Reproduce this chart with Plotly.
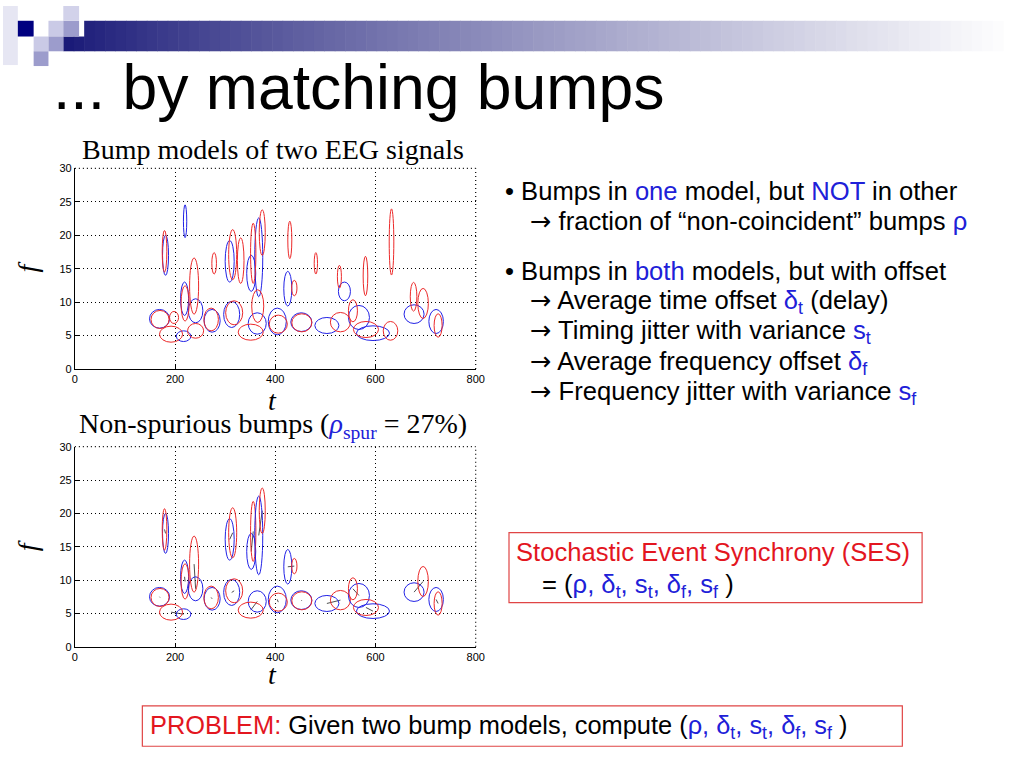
import plotly.graph_objects as go

# bumps of signal 1 (blue) : centre t, centre f, half width in t, half height in f
blue_t = [169, 181, 217, 219, 220, 241, 274, 309, 313, 352, 364, 367, 404, 425, 452, 503, 538, 567, 595, 677, 721]
blue_f = [7.5, 17.0, 4.9, 10.5, 22.1, 8.7, 7.2, 16.1, 8.15, 14.3, 6.8, 16.7, 7.1, 12.0, 7.0, 6.5, 11.6, 7.7, 5.35, 8.2, 7.1]
blue_wt = [20, 6, 14.5, 8, 3.3, 14.5, 16, 9, 16, 9, 18, 8, 18, 8, 21, 24, 12, 21, 33, 20, 14.5]
blue_wf = [1.4, 3.0, 0.8, 2.5, 2.45, 1.8, 1.7, 3.1, 1.95, 2.7, 1.6, 5.9, 2.0, 2.6, 1.4, 1.2, 1.4, 1.8, 1.1, 1.4, 1.8]

# bumps of signal 2 (red)
red_t = [170, 179, 192, 198, 220, 238, 241, 272, 278, 315, 318, 331, 351, 356, 365, 374, 406, 429, 438, 453,
         481, 528, 530, 555, 580, 581, 630, 632, 676, 695, 725]
red_f = [7.4, 17.6, 5.2, 7.7, 9.8, 12.4, 5.7, 7.4, 15.8, 17.1, 8.4, 16.2, 5.5, 17.3, 9.4, 20.4, 6.7, 19.3, 12.1, 6.9,
         15.8, 13.8, 7.0, 8.7, 13.9, 5.9, 5.7, 19.0, 10.8, 9.8, 6.5]
red_wt = [18, 4.6, 23, 9, 8, 9, 16, 14.5, 4.6, 8, 17, 6.6, 25, 5.3, 12, 6, 18, 4, 5.3, 20,
          3.3, 4, 20, 9, 4.6, 25, 14.5, 4.6, 6.6, 10.5, 8]
red_wf = [1.35, 3.1, 1.2, 0.9, 2.65, 4.2, 1.1, 1.7, 1.6, 3.75, 1.8, 3.4, 1.2, 4.5, 2.45, 3.4, 1.35, 2.8, 1.15, 1.35,
          1.6, 1.7, 1.45, 1.65, 2.95, 1.2, 1.4, 4.95, 2.15, 2.25, 1.75]

# matched (non-spurious) pairs: blue index, red index
match_blue = [0, 1, 2, 3, 5, 6, 7, 8, 9, 10, 11, 12, 13, 14, 15, 17, 18, 19, 20]
match_red = [0, 1, 2, 4, 5, 7, 9, 10, 13, 12, 15, 16, 18, 19, 22, 23, 25, 29, 30]

x_ticks = [0, 200, 400, 600, 800]
y_ticks = [0, 5, 10, 15, 20, 25, 30]

BLUE = "#2222e6"
RED = "#ec2a2a"
TXT_BLUE = "#2020d8"
TXT_RED = "#e3161f"
SANS = "Liberation Sans"
SERIF = "Liberation Serif"
ARROW = "<span style='font-family:DejaVu Sans'>→</span>"
BODY = 25.6
DOT = "1px,3px"


def px(x):
    return x / 1024


def py(y):
    return 1 - y / 768


def ellipse(xr, yr, t, f, wt, wf, color):
    return dict(type="circle", xref=xr, yref=yr, x0=t - wt, x1=t + wt, y0=f - wf, y1=f + wf,
                line=dict(color=color, width=1), layer="above")


fig = go.Figure()
shapes = []

# top panel: all bumps
for i in range(len(blue_t)):
    shapes.append(ellipse("x", "y", blue_t[i], blue_f[i], blue_wt[i], blue_wf[i], BLUE))
for i in range(len(red_t)):
    shapes.append(ellipse("x", "y", red_t[i], red_f[i], red_wt[i], red_wf[i], RED))

# bottom panel: only matched bumps + links between centres
lx, ly = [], []
for b, r in zip(match_blue, match_red):
    shapes.append(ellipse("x2", "y2", blue_t[b], blue_f[b], blue_wt[b], blue_wf[b], BLUE))
    shapes.append(ellipse("x2", "y2", red_t[r], red_f[r], red_wt[r], red_wf[r], RED))
    lx += [blue_t[b], red_t[r], None]
    ly += [blue_f[b], red_f[r], None]

fig.add_trace(go.Scatter(x=[None], y=[None], xaxis="x", yaxis="y", showlegend=False))
fig.add_trace(go.Scatter(x=lx, y=ly, mode="lines", xaxis="x2", yaxis="y2",
                         line=dict(color="#222222", width=0.8), showlegend=False, hoverinfo="skip"))

# dotted top / right edges of both panels (grid at the axis ends)
for xr, yr in (("x domain", "y domain"), ("x2 domain", "y2 domain")):
    shapes.append(dict(type="line", xref=xr, yref=yr, x0=0, x1=1, y0=1, y1=1,
                       line=dict(color="black", width=1.2, dash=DOT)))
    shapes.append(dict(type="line", xref=xr, yref=yr, x0=1, x1=1, y0=0, y1=1,
                       line=dict(color="black", width=1.2, dash=DOT)))

# slide decoration: gradient bar and squares
x_start, x_end, n = 61, 1012, 90
for k in range(n):
    a = k / n
    fr = a ** 0.85
    c = [int(26 + (255 - 26) * fr), int(26 + (255 - 26) * fr), int(120 + (255 - 120) * fr)]
    xa = x_start + (x_end - x_start) * k / n
    xb = x_start + (x_end - x_start) * (k + 1) / n + 0.6
    y_top = 31 if xa < 77 else 15
    shapes.append(dict(type="rect", xref="paper", yref="paper", x0=px(xa), x1=px(xb),
                       y0=py(46), y1=py(y_top), fillcolor=f"rgb({c[0]},{c[1]},{c[2]})",
                       line=dict(width=0), layer="below"))
squares = [
    (0, 0, 15, 60, "#e6e6f3"),
    (15, 15, 31, 31, "#000080"),
    (46, 15, 61, 31, "#cacae6"),
    (61, 15, 77, 31, "#9c9ccc"),
    (61, 0, 77, 15, "#d2d2ea"),
    (31, 31, 46, 46, "#cacae6"),
    (46, 31, 61, 46, "#9c9ccc"),
    (31, 46, 46, 61, "#9c9ccc"),
]
for x0, y0, x1, y1, col in squares:
    shapes.append(dict(type="rect", xref="paper", yref="paper", x0=px(x0), x1=px(x1),
                       y0=py(y1), y1=py(y0), fillcolor=col, line=dict(width=0), layer="below"))

# text boxes
shapes.append(dict(type="rect", xref="paper", yref="paper", x0=px(512), x1=px(930), y0=py(606), y1=py(535),
                   line=dict(color="#e04545", width=1.2)))
shapes.append(dict(type="rect", xref="paper", yref="paper", x0=px(141), x1=px(910), y0=py(752), y1=py(711),
                   line=dict(color="#e04545", width=1.2)))


def b(s):
    return f"<span style='color:{TXT_BLUE}'>{s}</span>"


def r(s):
    return f"<span style='color:{TXT_RED}'>{s}</span>"


ann = []


def text(x, y, s, size=BODY, font=SANS, xanchor="left", angle=0, color="black"):
    ann.append(dict(x=px(x), y=py(y), xref="paper", yref="paper", text=s, showarrow=False,
                    xanchor=xanchor, yanchor="middle", textangle=angle, borderpad=0,
                    font=dict(family=font, size=size, color=color)))


text(50, 82, "... by matching bumps", size=62.5)

text(273, 146, "Bump models of two EEG signals", size=28, font=SERIF, xanchor="center")
text(273, 426, "Non-spurious bumps (" + b("<i>ρ</i><sub>spur</sub>") + " = 27%)", size=28, font=SERIF,
     xanchor="center")
for yy in (265, 548):
    text(25, yy, "<i>f</i>", size=28, font=SERIF, xanchor="center", angle=-90)
for yy in (401, 679):
    text(273, yy, "<i>t</i>", size=28, font=SERIF, xanchor="center")

text(507, 188, "• Bumps in " + b("one") + " model, but " + b("NOT") + " in other")
text(532, 218, ARROW + " fraction of “non-coincident” bumps " + b("ρ"))
text(507, 269, "• Bumps in " + b("both") + " models, but with offset")
text(532, 300, ARROW + " Average time offset " + b("δ<sub>t</sub>") + " (delay)")
text(532, 331, ARROW + " Timing jitter with variance " + b("s<sub>t</sub>"))
text(532, 362, ARROW + " Average frequency offset " + b("δ<sub>f</sub>"))
text(532, 393, ARROW + " Frequency jitter with variance " + b("s<sub>f</sub>"))

sym = b("ρ, δ<sub>t</sub>, s<sub>t</sub>, δ<sub>f</sub>, s<sub>f</sub>")
text(518, 555, "Stochastic Event Synchrony (SES)", color=TXT_RED)
text(544, 589, "= (" + sym + " )")
text(148, 732, r("PROBLEM:") + " Given two bump models, compute (" + sym + " )", size=25.4)

axis_common = dict(showline=True, mirror=False, linecolor="black", linewidth=1,
                   showgrid=True, gridcolor="black", griddash=DOT, gridwidth=1.2,
                   ticks="inside", ticklen=4, tickcolor="black", zeroline=False,
                   tickfont=dict(family=SANS, size=11, color="black"))

fig.update_layout(
    width=1024, height=768,
    margin=dict(l=0, r=0, t=0, b=0),
    paper_bgcolor="white", plot_bgcolor="white",
    showlegend=False,
    shapes=shapes,
    annotations=ann,
    xaxis=dict(domain=[px(72.7), px(478.3)], range=[0, 800], tickvals=x_ticks, anchor="y", **axis_common),
    yaxis=dict(domain=[py(368.7), py(165)], range=[0, 30], tickvals=y_ticks, anchor="x", **axis_common),
    xaxis2=dict(domain=[px(72.7), px(478.3)], range=[0, 800], tickvals=x_ticks, anchor="y2", **axis_common),
    yaxis2=dict(domain=[py(651), py(447.7)], range=[0, 30], tickvals=y_ticks, anchor="x2", **axis_common),
)

# page without body margin or scrollbars so the 1024x768 figure fills the window
page_js = ("document.body.style.margin='0';"
           "document.body.style.overflow='hidden';"
           "document.documentElement.style.overflow='hidden';")
fig.write_html("out.html", post_script=page_js, config={"displayModeBar": False})
